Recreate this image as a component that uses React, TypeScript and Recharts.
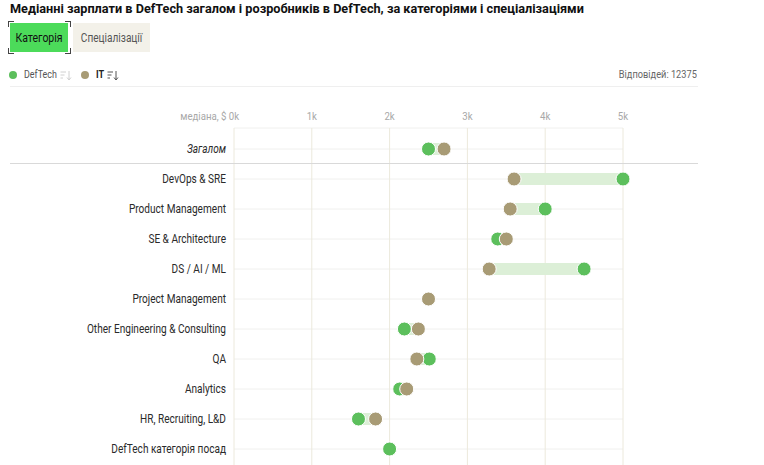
import React from 'react';
import { ComposedChart, Scatter, XAxis, YAxis, CartesianGrid, ReferenceArea } from 'recharts';

const categories = [
  'Загалом',
  'DevOps & SRE',
  'Product Management',
  'SE & Architecture',
  'DS / AI / ML',
  'Project Management',
  'Other Engineering & Consulting',
  'QA',
  'Analytics',
  'HR, Recruiting, L&D',
  'DefTech категорія посад',
];
const defTechValues: (number | null)[] = [2500, 5000, 4000, 3390, 4500, null, 2190, 2510, 2130, 1600, 2000];
const itValues: (number | null)[] = [2700, 3600, 3550, 3500, 3280, 2500, 2370, 2350, 2220, 1820, null];
const xTicks = [0, 1000, 2000, 3000, 4000, 5000];
const rowTicks = categories.map((_, i) => i);

const GREEN = '#5cbf5c';
const BROWN = '#a89b75';
const FONT = 'Roboto, sans-serif';
const SX = 0.84;

const defTechPoints = defTechValues
  .map((v, i) => ({ v, row: i }))
  .filter((p) => p.v !== null);
const itPoints = itValues
  .map((v, i) => ({ v, row: i }))
  .filter((p) => p.v !== null);
const bands = categories
  .map((_, i) => ({ row: i, a: defTechValues[i], b: itValues[i] }))
  .filter((r) => r.a !== null && r.b !== null)
  .map((r) => ({ row: r.row, lo: Math.min(r.a as number, r.b as number), hi: Math.max(r.a as number, r.b as number) }));

const Dot = (color: string) => (props: any) => {
  const { cx, cy } = props;
  if (cx == null || cy == null) return null;
  return <circle cx={cx} cy={cy} r={7} fill={color} stroke="#fff" strokeWidth={1} />;
};

const XTick = (props: any) => {
  const { x, y, payload } = props;
  const label = `${payload.value / 1000}k`;
  return (
    <g transform={`translate(${x},${y}) scale(${SX},1)`}>
      {payload.value === 0 && (
        <text x={-9} y={0} textAnchor="end" fill="#a8a8a8" fontSize={11.5} fontFamily={FONT}>
          медіана, $
        </text>
      )}
      <text x={0} y={0} textAnchor="middle" fill="#a8a8a8" fontSize={11.5} fontFamily={FONT}>
        {label}
      </text>
    </g>
  );
};

const YTick = (props: any) => {
  const { x, y, payload } = props;
  const idx = payload.value as number;
  const name = categories[idx];
  if (name === undefined) return null;
  return (
    <g transform={`translate(${x},${y}) scale(${SX},1)`}>
      <text
        x={0}
        y={0}
        dy={4}
        textAnchor="end"
        fill="#2a2a2a"
        fontSize={12}
        fontFamily={FONT}
        fontStyle={idx === 0 ? 'italic' : 'normal'}
      >
        {name}
      </text>
    </g>
  );
};

const SortIcon = ({ color }: { color: string }) => (
  <svg width="12" height="11" viewBox="0 0 12 11" style={{ display: 'block' }}>
    <line x1="0.5" y1="2" x2="6" y2="2" stroke={color} strokeWidth="1" />
    <line x1="0.5" y1="5" x2="4.5" y2="5" stroke={color} strokeWidth="1" />
    <line x1="0.5" y1="8" x2="3" y2="8" stroke={color} strokeWidth="1" />
    <line x1="9" y1="1" x2="9" y2="10" stroke={color} strokeWidth="1" />
    <polyline points="7,7.5 9,10 11,7.5" fill="none" stroke={color} strokeWidth="1" />
  </svg>
);

const Corner = ({ left, top, r, b, color }: { left: number; top: number; r: boolean; b: boolean; color: string }) => (
  <div
    style={{
      position: 'absolute',
      left,
      top,
      width: 5,
      height: 5,
      borderTop: b ? 'none' : `1.5px solid ${color}`,
      borderBottom: b ? `1.5px solid ${color}` : 'none',
      borderLeft: r ? 'none' : `1.5px solid ${color}`,
      borderRight: r ? `1.5px solid ${color}` : 'none',
    }}
  />
);

const Narrow = ({ children, origin }: { children: React.ReactNode; origin?: string }) => (
  <span style={{ display: 'inline-block', transform: `scaleX(${SX})`, transformOrigin: origin || 'center' }}>{children}</span>
);

export default function App() {
  return (
    <div
      style={{
        position: 'absolute',
        left: 0,
        top: 0,
        width: 764,
        height: 465,
        overflow: 'hidden',
        background: '#fff',
        fontFamily: FONT,
      }}
    >
      <ComposedChart
        width={764}
        height={480}
        margin={{ top: 100, right: 141, bottom: 7, left: 0 }}
        style={{ position: 'absolute', left: 0, top: 0 }}
      >
        <CartesianGrid vertical={false} stroke="#f0f0ee" />
        <CartesianGrid horizontal={false} stroke="#ece9dc" />
        <XAxis
          type="number"
          dataKey="v"
          orientation="top"
          domain={[0, 5000]}
          ticks={xTicks}
          axisLine={false}
          tickLine={false}
          height={28}
          tick={<XTick />}
          interval={0}
        />
        <YAxis
          type="number"
          dataKey="row"
          domain={[-0.7, 10.8]}
          ticks={rowTicks}
          reversed
          axisLine={false}
          tickLine={false}
          width={234}
          tickMargin={2}
          tick={<YTick />}
          interval={0}
        />
        {bands.map((b) => (
          <ReferenceArea
            key={b.row}
            x1={b.lo}
            x2={b.hi}
            y1={b.row - 0.2}
            y2={b.row + 0.2}
            fill="#dcefd7"
            fillOpacity={1}
            stroke="none"
          />
        ))}
        <Scatter data={defTechPoints} dataKey="v" shape={Dot(GREEN)} isAnimationActive={false} />
        <Scatter data={itPoints} dataKey="v" shape={Dot(BROWN)} isAnimationActive={false} />
      </ComposedChart>

      {/* separator under "Загалом" */}
      <div style={{ position: 'absolute', left: 10, top: 163, width: 688, height: 1, background: '#d9d9d9' }} />

      {/* title */}
      <div
        style={{
          position: 'absolute',
          left: 10,
          top: 1,
          fontSize: 12.7,
          fontWeight: 700,
          color: '#111',
          whiteSpace: 'nowrap',
        }}
      >
        Медіанні зарплати в DefTech загалом і розробників в DefTech, за категоріями і спеціалізаціями
      </div>

      {/* buttons */}
      <div
        style={{
          position: 'absolute',
          left: 10,
          top: 23,
          width: 58,
          height: 29,
          background: '#4cdb5a',
          color: '#111',
          fontSize: 12.5,
          display: 'flex',
          alignItems: 'center',
          justifyContent: 'center',
        }}
      >
        <Narrow>Категорія</Narrow>
      </div>
      <Corner left={8} top={21} r={false} b={false} color="#444" />
      <Corner left={65} top={21} r={true} b={false} color="#444" />
      <Corner left={8} top={48} r={false} b={true} color="#444" />
      <Corner left={65} top={48} r={true} b={true} color="#444" />
      <div
        style={{
          position: 'absolute',
          left: 73,
          top: 23,
          width: 77,
          height: 29,
          background: '#f3f1e9',
          color: '#555',
          fontSize: 12,
          display: 'flex',
          alignItems: 'center',
          justifyContent: 'center',
        }}
      >
        <Narrow>Спеціалізації</Narrow>
      </div>

      {/* legend */}
      <span style={{ position: 'absolute', left: 9, top: 71, width: 8, height: 8, borderRadius: 4, background: GREEN }} />
      <div style={{ position: 'absolute', left: 24, top: 68, fontSize: 10.6, color: '#555', lineHeight: '14px', whiteSpace: 'nowrap' }}>
        <Narrow origin="left">DefTech</Narrow>
      </div>
      <div style={{ position: 'absolute', left: 60, top: 70 }}>
        <SortIcon color="#d0d0d0" />
      </div>
      <span style={{ position: 'absolute', left: 81, top: 71, width: 8, height: 8, borderRadius: 4, background: BROWN }} />
      <div style={{ position: 'absolute', left: 96, top: 68, fontSize: 10.8, fontWeight: 700, color: '#222', lineHeight: '14px', whiteSpace: 'nowrap' }}>
        <Narrow origin="left">IT</Narrow>
      </div>
      <div style={{ position: 'absolute', left: 107, top: 70 }}>
        <SortIcon color="#555" />
      </div>
      <div
        style={{
          position: 'absolute',
          right: 764 - 697,
          top: 68,
          fontSize: 11,
          lineHeight: '14px',
          color: '#666',
          whiteSpace: 'nowrap',
        }}
      >
        <Narrow origin="right">Відповідей: 12375</Narrow>
      </div>
      <div style={{ position: 'absolute', left: 10, top: 86, width: 688, height: 1, background: '#efefef' }} />
    </div>
  );
}
